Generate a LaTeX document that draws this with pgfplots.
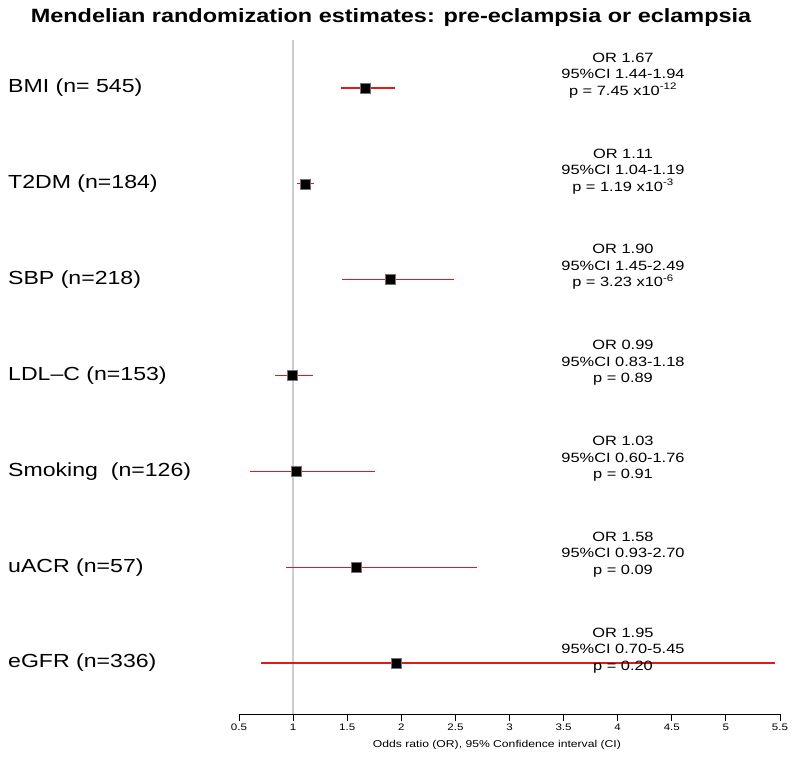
\documentclass[border=0pt]{standalone}
\usepackage{pgfplots}
\pgfplotsset{compat=1.18}
\usepackage{pgfplotstable}
\usepackage{fontspec}
% the reference's lettering is a little wider than plain Arial
\setmainfont{Liberation Sans}[FakeStretch=1.22]

\definecolor{cired}{RGB}{225,25,25}
\definecolor{refgrey}{RGB}{205,205,205}

% row: BMI at top (7) down to eGFR (1)
\pgfplotstableread{
row or   lo   hi
7   1.67 1.44 1.94
6   1.11 1.04 1.19
5   1.90 1.45 2.49
4   0.99 0.83 1.18
3   1.03 0.60 1.76
2   1.58 0.93 2.70
1   1.95 0.70 5.45
}\mrdata

\begin{document}
\begin{tikzpicture}
\begin{axis}[
  scale only axis,
  width=541bp, height=674bp,
  xmin=0.5, xmax=5.5,
  ymin=0.468, ymax=7.5,
  axis x line*=bottom,
  axis y line=none,
  xtick={0.5,1,...,5.5},
  tick align=outside,
  major tick length=7bp,
  x axis line style={-, line width=0.8pt},
  every tick/.style={black, line width=0.8pt},
  xticklabel style={font=\fontsize{9.5}{11}\selectfont, yshift=1bp},
  /pgf/number format/assume math mode=true,
  clip=false,
]
  % reference line at OR = 1
  \addplot[draw=refgrey, line width=1.3pt, mark=none] coordinates {(1,0.468) (1,7.5)};

  % 95% CI as horizontal error bars (no marks on this plot)
  \addplot[draw=none, mark=none, forget plot,
    /pgfplots/error bars/error bar style={draw=cired, line width=1.2pt},
    /pgfplots/error bars/x dir=both,
    /pgfplots/error bars/x explicit,
    /pgfplots/error bars/error mark=none]
    table[x=or, y=row,
      x error plus expr=\thisrow{hi}-\thisrow{or},
      x error minus expr=\thisrow{or}-\thisrow{lo}] {\mrdata};

  % point estimates
  \addplot[only marks, mark=square*, mark size=5bp,
    mark options={fill=black, draw=black!55, line width=0.5pt}]
    table[x=or, y=row] {\mrdata};

  % labels on the left
  \begin{scope}[every node/.style={anchor=west, font=\fontsize{19}{22}\selectfont, inner sep=0pt}]
    \node at (axis cs:-1.635,7) {BMI (n= 545)};
    \node at (axis cs:-1.635,6) {T2DM (n=184)};
    \node at (axis cs:-1.635,5) {SBP (n=218)};
    \node at (axis cs:-1.635,4) {LDL--C (n=153)};
    \node at (axis cs:-1.635,3) {Smoking\ \ (n=126)};
    \node at (axis cs:-1.635,2) {uACR (n=57)};
    \node at (axis cs:-1.635,1) {eGFR (n=336)};
  \end{scope}

  % estimates text on the right
  \begin{scope}[every node/.style={align=center, font=\fontsize{13.5}{16.5}\selectfont, inner sep=0pt, yshift=12.5bp}]
    \node at (axis cs:4.049,7) {OR 1.67\\95\%CI 1.44-1.94\\p = 7.45 x10\textsuperscript{-12}};
    \node at (axis cs:4.049,6) {OR 1.11\\95\%CI 1.04-1.19\\p = 1.19 x10\textsuperscript{-3}};
    \node at (axis cs:4.049,5) {OR 1.90\\95\%CI 1.45-2.49\\p = 3.23 x10\textsuperscript{-6}};
    \node at (axis cs:4.049,4) {OR 0.99\\95\%CI 0.83-1.18\\p = 0.89};
    \node at (axis cs:4.049,3) {OR 1.03\\95\%CI 0.60-1.76\\p = 0.91};
    \node at (axis cs:4.049,2) {OR 1.58\\95\%CI 0.93-2.70\\p = 0.09};
    \node at (axis cs:4.049,1) {OR 1.95\\95\%CI 0.70-5.45\\p = 0.20};
  \end{scope}

  % axis title and title
  \node[font=\fontsize{10}{12}\selectfont] at (axis cs:2.884,0.468) [yshift=-31bp] {Odds ratio (OR), 95\% Confidence interval (CI)};
  \node[font=\bfseries\fontsize{19.3}{22}\selectfont] at (axis cs:1.905,7.5) [yshift=22bp] {Mendelian randomization estimates: pre-eclampsia or eclampsia};
\end{axis}
\pgfresetboundingbox
\path[use as bounding box] (-239bp,-47bp) rectangle (561bp,714bp);
\end{tikzpicture}
\end{document}
